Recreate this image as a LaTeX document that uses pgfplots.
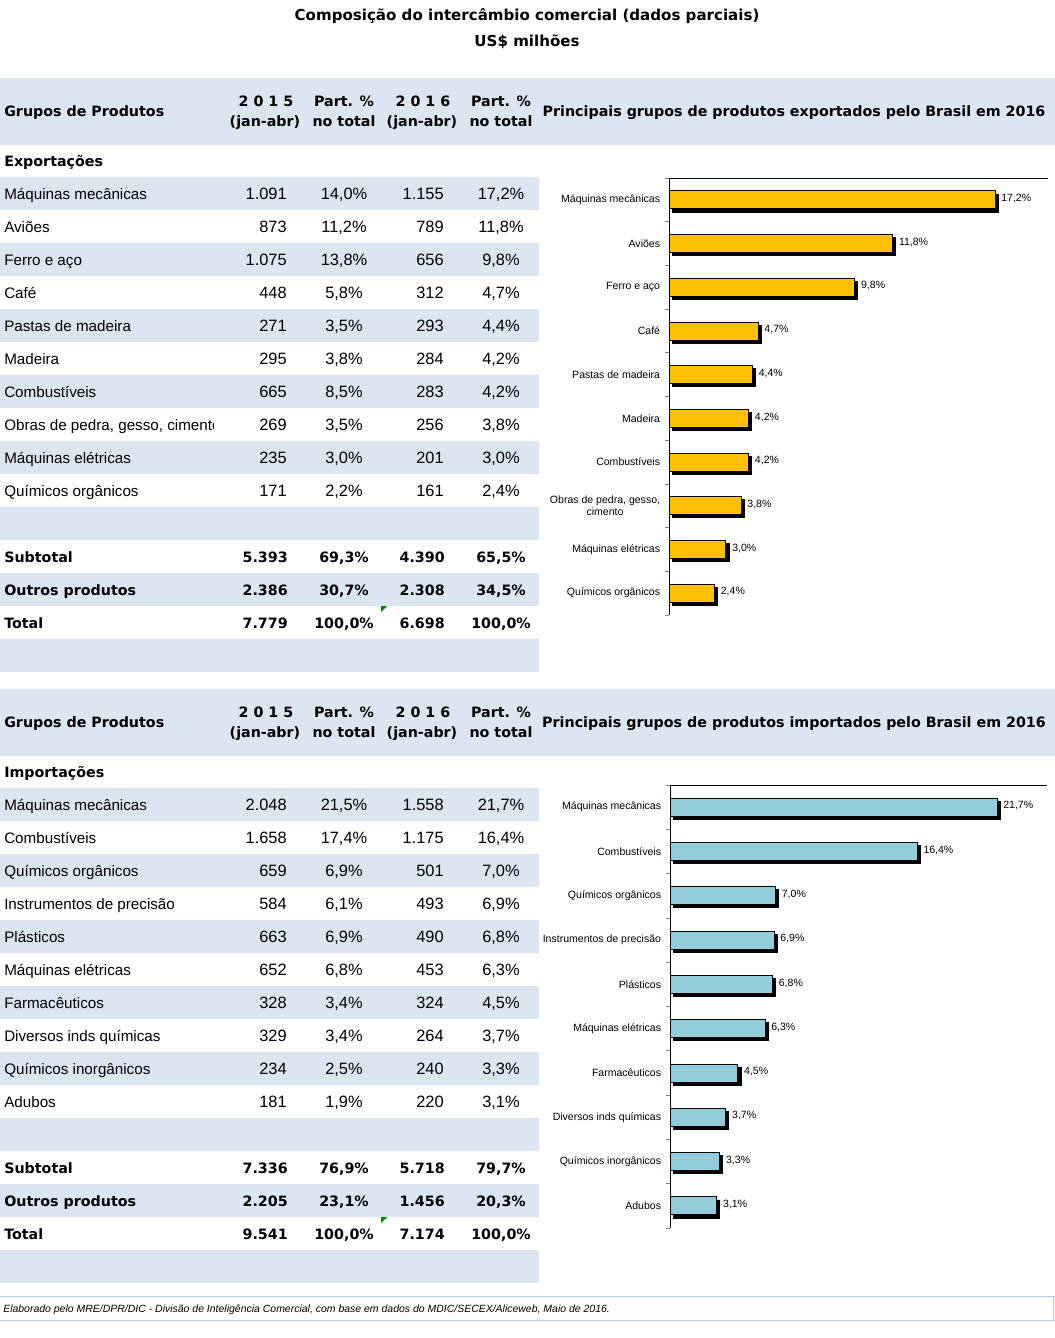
\documentclass[border=0pt]{standalone}
\usepackage{fontspec}
\setmainfont{Liberation Sans}
\newfontfamily\dv{DejaVu Sans}
\usepackage{pgfplots}
\pgfplotsset{compat=1.18}
\definecolor{band}{HTML}{DCE6F1}
\definecolor{ybar}{HTML}{FFC000}
\definecolor{bbar}{HTML}{92CDDC}
\definecolor{fbord}{HTML}{B8CCE4}
\definecolor{cgreen}{HTML}{008000}

\newcommand{\fnames}{\fontsize{11.4}{13}\selectfont}
\newcommand{\fnum}{\fontsize{12.3}{14}\selectfont}
\newcommand{\fbold}{\dv\bfseries\fontsize{10.7}{13}\selectfont}
\newcommand{\fsmall}{\fontsize{7.9}{9.5}\selectfont}

\newcommand{\trow}[6]{%
  \begin{scope}
    \clip (0,{#1-16}) rectangle (213,{#1+16});
    \node[anchor=base west, inner sep=0, font=\fnames] at (4,{#1+5.5}) {#2};
  \end{scope}
  \node[anchor=base east, inner sep=0, font=\fnum] at (287,{#1+5.5}) {#3};
  \node[anchor=base, inner sep=0, font=\fnum] at (344,{#1+5.5}) {#4};
  \node[anchor=base east, inner sep=0, font=\fnum] at (444,{#1+5.5}) {#5};
  \node[anchor=base, inner sep=0, font=\fnum] at (501,{#1+5.5}) {#6};
}
\newcommand{\brow}[6]{%
  \node[anchor=base west, inner sep=0, font=\fbold] at (4,{#1+5.5}) {#2};
  \node[anchor=base east, inner sep=0, font=\fbold] at (288,{#1+5.5}) {#3};
  \node[anchor=base, inner sep=0, font=\fbold] at (344,{#1+5.5}) {#4};
  \node[anchor=base east, inner sep=0, font=\fbold] at (445,{#1+5.5}) {#5};
  \node[anchor=base, inner sep=0, font=\fbold] at (501,{#1+5.5}) {#6};
}
% header band: #1 = top y, #2 = chart title
\newcommand{\thead}[2]{%
  \fill[band] (0,#1) rectangle (1055,{#1+67});
  \node[anchor=base west, inner sep=0, font=\fbold] at (4,{#1+38}) {Grupos de Produtos};
  \node[anchor=base, inner sep=0, font=\fbold] at (266,{#1+28}) {2 0 1 5};
  \node[anchor=base, inner sep=0, font=\fbold] at (265,{#1+48}) {(jan-abr)};
  \node[anchor=base, inner sep=0, font=\fbold] at (344,{#1+28}) {Part. \%};
  \node[anchor=base, inner sep=0, font=\fbold] at (344,{#1+48}) {no total};
  \node[anchor=base, inner sep=0, font=\fbold] at (423,{#1+28}) {2 0 1 6};
  \node[anchor=base, inner sep=0, font=\fbold] at (422,{#1+48}) {(jan-abr)};
  \node[anchor=base, inner sep=0, font=\fbold] at (501,{#1+28}) {Part. \%};
  \node[anchor=base, inner sep=0, font=\fbold] at (501,{#1+48}) {no total};
  \node[anchor=base, inner sep=0, font=\fbold] at (794,{#1+38}) {#2};
}

\pgfplotsset{
  hchart/.style={
    scale only axis, anchor=north west, y dir=reverse,
    ymin=-0.5, ymax=9.5, xmin=0,
    axis x line*=top, axis y line*=left,
    axis line style={-, line width=0.6pt},
    xtick=\empty, ytick={0,...,9},
    minor ytick={-0.5,0.5,...,9.5},
    major tick length=0pt, minor tick length=3pt, tick align=outside,
    minor tick style={line width=0.6pt},
    yticklabel style={font=\fsmall, align=center, inner sep=0pt, xshift=-6.5pt},
    clip=false,
  },
  shadowbar/.style={xbar, bar shift=0pt, bar width=13.5pt, fill=black, draw=black, xshift=2.25pt, yshift=-2.25pt},
  mainbar/.style={xbar, bar shift=0pt, bar width=13.5pt, fill=#1, draw=black, line width=0.6pt,
    nodes near coords, point meta=explicit symbolic, nodes near coords align={horizontal},
    every node near coord/.append style={font=\fsmall, anchor=west, inner sep=0pt, xshift=4.5pt, yshift=1pt}},
}

\begin{document}
\begin{tikzpicture}
\begin{scope}[x=0.75pt, y=-0.75pt]
  \path[use as bounding box] (0,0) rectangle (1055,1338);
  % titles
  \node[anchor=base, inner sep=0, font=\dv\bfseries\fontsize{11.3}{13}\selectfont] at (527,21) {Composição do intercâmbio comercial (dados parciais)};
  \node[anchor=base, inner sep=0, font=\dv\bfseries\fontsize{11.3}{13}\selectfont] at (527,47) {US\$ milhões};

  % ---------- export table ----------
  \thead{78}{Principais grupos de produtos exportados pelo Brasil em 2016}
  \node[anchor=base west, inner sep=0, font=\fbold] at (4,166) {Exportações};
  \foreach \k in {0,2,...,14} \fill[band] (0,{177+33*\k}) rectangle (539,{210+33*\k});
  \trow{193.5}{Máquinas mecânicas}{1.091}{14,0\%}{1.155}{17,2\%}
  \trow{226.5}{Aviões}{873}{11,2\%}{789}{11,8\%}
  \trow{259.5}{Ferro e aço}{1.075}{13,8\%}{656}{9,8\%}
  \trow{292.5}{Café}{448}{5,8\%}{312}{4,7\%}
  \trow{325.5}{Pastas de madeira}{271}{3,5\%}{293}{4,4\%}
  \trow{358.5}{Madeira}{295}{3,8\%}{284}{4,2\%}
  \trow{391.5}{Combustíveis}{665}{8,5\%}{283}{4,2\%}
  \trow{424.5}{Obras de pedra, gesso, cimento}{269}{3,5\%}{256}{3,8\%}
  \trow{457.5}{Máquinas elétricas}{235}{3,0\%}{201}{3,0\%}
  \trow{490.5}{Químicos orgânicos}{171}{2,2\%}{161}{2,4\%}
  \brow{556.5}{Subtotal}{5.393}{69,3\%}{4.390}{65,5\%}
  \brow{589.5}{Outros produtos}{2.386}{30,7\%}{2.308}{34,5\%}
  \brow{622.5}{Total}{7.779}{100,0\%}{6.698}{100,0\%}
  \fill[cgreen] (381,606) -- (387,606) -- (381,612) -- cycle;

  % ---------- import table ----------
  \thead{689}{Principais grupos de produtos importados pelo Brasil em 2016}
  \node[anchor=base west, inner sep=0, font=\fbold] at (4,777) {Importações};
  \foreach \k in {0,2,...,14} \fill[band] (0,{788+33*\k}) rectangle (539,{821+33*\k});
  \trow{804.5}{Máquinas mecânicas}{2.048}{21,5\%}{1.558}{21,7\%}
  \trow{837.5}{Combustíveis}{1.658}{17,4\%}{1.175}{16,4\%}
  \trow{870.5}{Químicos orgânicos}{659}{6,9\%}{501}{7,0\%}
  \trow{903.5}{Instrumentos de precisão}{584}{6,1\%}{493}{6,9\%}
  \trow{936.5}{Plásticos}{663}{6,9\%}{490}{6,8\%}
  \trow{969.5}{Máquinas elétricas}{652}{6,8\%}{453}{6,3\%}
  \trow{1002.5}{Farmacêuticos}{328}{3,4\%}{324}{4,5\%}
  \trow{1035.5}{Diversos inds químicas}{329}{3,4\%}{264}{3,7\%}
  \trow{1068.5}{Químicos inorgânicos}{234}{2,5\%}{240}{3,3\%}
  \trow{1101.5}{Adubos}{181}{1,9\%}{220}{3,1\%}
  \brow{1167.5}{Subtotal}{7.336}{76,9\%}{5.718}{79,7\%}
  \brow{1200.5}{Outros produtos}{2.205}{23,1\%}{1.456}{20,3\%}
  \brow{1233.5}{Total}{9.541}{100,0\%}{7.174}{100,0\%}
  \fill[cgreen] (381,1217) -- (387,1217) -- (381,1223) -- cycle;

  % ---------- footer ----------
  \draw[fbord, line width=0.75pt] (0,1296) -- (1055,1296);
  \draw[fbord, line width=0.75pt] (0,1320) -- (1055,1320);
  \draw[fbord, line width=0.75pt] (1053,1296) -- (1053,1320);
  \node[anchor=base west, inner sep=0] at (3,1312) {\resizebox{455pt}{!}{\itshape\fontsize{8}{10}\selectfont Elaborado pelo MRE/DPR/DIC - Divisão de Inteligência Comercial, com base em dados do MDIC/SECEX/Aliceweb, Maio de 2016.}};
\end{scope}

% ---------- export chart ----------
\begin{axis}[hchart, at={(501.75pt,-133.5pt)}, width=284.25pt, height=327.75pt, xmax=20,
  yticklabels={Máquinas mecânicas, Aviões, Ferro e aço, Café, Pastas de madeira, Madeira, Combustíveis, {Obras de pedra, gesso,\\cimento}, Máquinas elétricas, Químicos orgânicos}]
\addplot[shadowbar] coordinates {(17.2,0) (11.8,1) (9.8,2) (4.7,3) (4.4,4) (4.2,5) (4.2,6) (3.8,7) (3.0,8) (2.4,9)};
\addplot[mainbar=ybar] coordinates {(17.2,0) [17,2\%] (11.8,1) [11,8\%] (9.8,2) [9,8\%] (4.7,3) [4,7\%] (4.4,4) [4,4\%] (4.2,5) [4,2\%] (4.2,6) [4,2\%] (3.8,7) [3,8\%] (3.0,8) [3,0\%] (2.4,9) [2,4\%]};
\end{axis}

% ---------- import chart ----------
\begin{axis}[hchart, at={(502.5pt,-588.75pt)}, width=282.5pt, height=332.25pt, xmax=25,
  yticklabels={Máquinas mecânicas, Combustíveis, Químicos orgânicos, Instrumentos de precisão, Plásticos, Máquinas elétricas, Farmacêuticos, Diversos inds químicas, Químicos inorgânicos, Adubos}]
\addplot[shadowbar] coordinates {(21.7,0) (16.4,1) (7.0,2) (6.9,3) (6.8,4) (6.3,5) (4.5,6) (3.7,7) (3.3,8) (3.1,9)};
\addplot[mainbar=bbar] coordinates {(21.7,0) [21,7\%] (16.4,1) [16,4\%] (7.0,2) [7,0\%] (6.9,3) [6,9\%] (6.8,4) [6,8\%] (6.3,5) [6,3\%] (4.5,6) [4,5\%] (3.7,7) [3,7\%] (3.3,8) [3,3\%] (3.1,9) [3,1\%]};
\end{axis}
\end{tikzpicture}
\end{document}
